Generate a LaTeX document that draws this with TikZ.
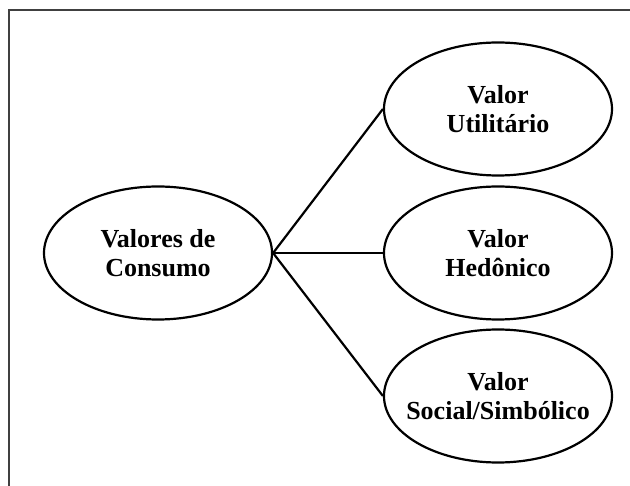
\documentclass[tikz,border=0pt]{standalone}
\usepackage{fontspec}
\setmainfont{Liberation Serif}
\usetikzlibrary{shapes.geometric}
\tikzset{
  valor/.style={ellipse, draw, line width=2.2pt, minimum width=228pt, minimum height=133pt,
    inner xsep=-15pt, inner ysep=0pt, align=center, font=\bfseries\fontsize{26}{29}\selectfont}
}
\begin{document}
\begin{tikzpicture}[x=1pt, y=-1pt]
            \useasboundingbox (0, 0) rectangle (630, 486);
            \draw[line width=1.5pt, black!75] (9, 490) -- (9, 10) -- (640, 10);

            \node[valor] (consumo) at (158, 253) {Valores de\\Consumo};
            \node[valor] (util) at (498, 109) {Valor\\Utilitário};
            \node[valor] (hed) at (498, 253) {Valor\\Hedônico};
            \node[valor] (soc) at (498, 396) {Valor\\Social/Simbólico};

            \draw[line width=2.2pt] (consumo.east) -- (util.west);
            \draw[line width=2.2pt] (consumo.east) -- (hed.west);
            \draw[line width=2.2pt] (consumo.east) -- (soc.west);
        \end{tikzpicture}
\end{document}
